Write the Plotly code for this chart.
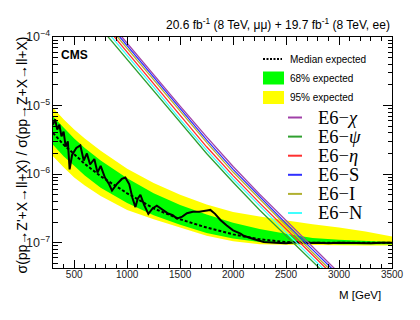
import plotly.graph_objects as go

# ---- expected limit (median and bands) ----
band_mass = [300, 400, 500, 600, 750, 1000, 1250, 1500, 1750, 2000,
             2250, 2500, 2750, 3000, 3250, 3500]
median_exp = [3.98e-6, 2.69e-6, 1.95e-6, 1.41e-6, 9.3e-7, 5.25e-7, 3.16e-7, 2.19e-7,
              1.66e-7, 1.32e-7, 1.12e-7, 1.02e-7, 1.0e-7, 1.0e-7, 1.0e-7, 1.0e-7]
yellow_hi = [9.3e-6, 6.3e-6, 4.47e-6, 3.3e-6, 2.19e-6, 1.2e-6, 7.4e-7, 5.0e-7,
             3.6e-7, 2.8e-7, 2.4e-7, 2.1e-7, 1.86e-7, 1.66e-7, 1.45e-7, 1.23e-7]
green_hi = [6.9e-6, 4.7e-6, 3.3e-6, 2.4e-6, 1.58e-6, 8.7e-7, 5.25e-7, 3.55e-7,
            2.57e-7, 1.95e-7, 1.58e-7, 1.35e-7, 1.17e-7, 1.1e-7, 1.05e-7, 1.02e-7]
green_lo = [2.69e-6, 1.82e-6, 1.32e-6, 9.5e-7, 6.3e-7, 3.8e-7, 2.5e-7, 1.82e-7,
            1.38e-7, 1.15e-7, 1.02e-7, 9.8e-8, 9.8e-8, 9.5e-8, 9.5e-8, 9.5e-8]
yellow_lo = [1.82e-6, 1.26e-6, 8.9e-7, 6.8e-7, 4.8e-7, 3.0e-7, 2.2e-7, 1.66e-7,
             1.26e-7, 1.05e-7, 9.5e-8, 9.3e-8, 9.3e-8, 9.1e-8, 9.1e-8, 9.1e-8]

# ---- observed limit ----
obs_mass = [300, 320, 340, 360, 380, 400, 420, 440, 457, 480, 520, 558, 590, 620,
            650, 690, 720, 750, 790, 830, 857, 900, 950, 983, 1020, 1050, 1078,
            1100, 1125, 1160, 1200, 1240, 1280, 1320, 1380, 1430, 1470, 1520,
            1565, 1620, 1680, 1754, 1785, 1830, 1880, 1940, 2000, 2070, 2100,
            2200, 2290, 2400, 2500, 2600, 2700, 2800, 2900, 3000, 3100, 3200,
            3300, 3400, 3500]
obs_limit = [5.25e-6, 6.3e-6, 4.47e-6, 5.25e-6, 3.55e-6, 4.17e-6, 2.51e-6, 3.0e-6,
             1.17e-6, 1.9e-6, 2.4e-6, 2.63e-6, 1.58e-6, 2.0e-6, 1.38e-6, 1.66e-6,
             1.05e-6, 1.32e-6, 8.9e-7, 7.1e-7, 5.75e-7, 7.1e-7, 8.5e-7, 8.9e-7,
             7.1e-7, 4.47e-7, 3.3e-7, 4.37e-7, 5.0e-7, 3.55e-7, 2.63e-7, 3.16e-7,
             3.47e-7, 3.16e-7, 2.69e-7, 2.51e-7, 2.24e-7, 2.4e-7, 2.69e-7, 2.82e-7,
             2.82e-7, 2.95e-7, 3.0e-7, 2.63e-7, 2.14e-7, 1.78e-7, 1.51e-7, 1.35e-7,
             1.26e-7, 1.12e-7, 1.02e-7, 1.0e-7, 9.8e-8, 1.01e-7, 9.9e-8, 1.0e-7,
             9.8e-8, 1.0e-7, 9.9e-8, 1.0e-7, 9.8e-8, 1.0e-7, 1.0e-7]

# ---- E6 model predictions ----
theory_mass = [750, 1000, 1250, 1500, 1750, 2000, 2250, 2500, 2750, 3000]
e6_chi = [2.34e-4, 8.1e-5, 2.8e-5, 9.8e-6, 3.5e-6, 1.29e-6, 5.1e-7, 2.1e-7, 8.5e-8, 3.6e-8]
e6_psi = [1.35e-4, 4.7e-5, 1.62e-5, 5.6e-6, 2.0e-6, 7.6e-7, 3.0e-7, 1.26e-7, 5.2e-8, 2.24e-8]
e6_eta = [1.74e-4, 6.0e-5, 2.1e-5, 7.2e-6, 2.5e-6, 9.5e-7, 3.8e-7, 1.58e-7, 6.5e-8, 2.75e-8]
e6_s = [2.14e-4, 7.4e-5, 2.57e-5, 8.9e-6, 3.16e-6, 1.17e-6, 4.7e-7, 1.9e-7, 7.9e-8, 3.3e-8]
e6_i = [1.95e-4, 6.8e-5, 2.34e-5, 8.1e-6, 2.9e-6, 1.07e-6, 4.3e-7, 1.74e-7, 7.2e-8, 3.0e-8]
e6_n = [1.55e-4, 5.4e-5, 1.86e-5, 6.3e-6, 2.24e-6, 8.5e-7, 3.4e-7, 1.41e-7, 5.9e-8, 2.5e-8]

model_labels = ["E6−<i>χ</i>", "E6−<i>ψ</i>", "E6−<i>η</i>", "E6−S", "E6−I", "E6−N"]
model_values = [e6_chi, e6_psi, e6_eta, e6_s, e6_i, e6_n]
model_colors = ["#A040A8", "#30A030", "#FF3030", "#3030FF", "#B0B030", "#40FFFF"]

SANS = "Liberation Sans, Arial, sans-serif"
SERIF = "Liberation Serif, Times New Roman, serif"

fig = go.Figure()

# 95% band
fig.add_trace(go.Scatter(
    x=band_mass + band_mass[::-1], y=yellow_hi + yellow_lo[::-1],
    fill="toself", fillcolor="#FFFF00", line=dict(width=0),
    mode="lines", hoverinfo="skip", showlegend=False))
# 68% band
fig.add_trace(go.Scatter(
    x=band_mass + band_mass[::-1], y=green_hi + green_lo[::-1],
    fill="toself", fillcolor="#00FF00", line=dict(width=0),
    mode="lines", hoverinfo="skip", showlegend=False))
# median expected
fig.add_trace(go.Scatter(
    x=band_mass, y=median_exp, mode="lines",
    line=dict(color="black", width=2, dash="3px,2px"), showlegend=False))
# observed
fig.add_trace(go.Scatter(
    x=obs_mass, y=obs_limit, mode="lines",
    line=dict(color="black", width=2), showlegend=False))
# model curves
for vals, col in zip(model_values, model_colors):
    fig.add_trace(go.Scatter(
        x=theory_mass, y=vals, mode="lines",
        line=dict(color=col, width=1.3), showlegend=False))

# ---- frame: the page body adds an 8px margin, so aim for window pixels ----
W, H = 420, 320
PAGE = 8
X0, X1, Y0, Y1 = 53, 392, 37, 268          # plot box in window pixels
L, R = X0 - PAGE, W - (X1 - PAGE)
T, B = Y0 - PAGE, H - (Y1 - PAGE)
pw, ph = X1 - X0, Y1 - Y0


def px(x, y):
    """window pixel position -> paper coordinates"""
    return (x - X0) / pw, (Y1 - y) / ph


shapes = []
annotations = []

# legend: expected items
lx0, lx1 = px(263, 0)[0], px(282, 0)[0]
_, ly = px(0, 59)
shapes.append(dict(type="line", xref="paper", yref="paper", x0=lx0, x1=lx1, y0=ly, y1=ly,
                   line=dict(color="black", width=2, dash="2px,1.5px")))
for row_y, col, txt in [(59, None, "Median expected"), (78, "#00FF00", "68% expected"),
                        (97.5, "#FFFF00", "95% expected")]:
    if col:
        bx0, by0 = px(263, row_y + 6.5)
        bx1, by1 = px(284, row_y - 6.5)
        shapes.append(dict(type="rect", xref="paper", yref="paper", x0=bx0, x1=bx1,
                           y0=by0, y1=by1, fillcolor=col, line=dict(width=0)))
    tx, ty = px(288, row_y)
    annotations.append(dict(x=tx, y=ty, xref="paper", yref="paper", text=txt,
                            showarrow=False, xanchor="left", yanchor="middle",
                            font=dict(family=SANS, size=10, color="black")))

# legend: model items
for i, (lab, col) in enumerate(zip(model_labels, model_colors)):
    row_y = 117.5 + i * 19.1
    sx0, sy = px(288, row_y)
    sx1, _ = px(302, row_y)
    shapes.append(dict(type="line", xref="paper", yref="paper", x0=sx0, x1=sx1, y0=sy, y1=sy,
                       line=dict(color=col, width=2)))
    tx, ty = px(316, row_y)
    annotations.append(dict(x=tx, y=ty, xref="paper", yref="paper", text=lab,
                            showarrow=False, xanchor="left", yanchor="middle",
                            font=dict(family=SERIF, size=18.5, color="black")))

# CMS label
cx, cy = px(59, 55)
annotations.append(dict(x=cx, y=cy, xref="paper", yref="paper", text="<b>CMS</b>",
                        showarrow=False, xanchor="left", yanchor="middle",
                        font=dict(family=SANS, size=12, color="black")))

# luminosity header
annotations.append(dict(x=1, y=1, xref="paper", yref="paper", yshift=3,
                        text="20.6 fb<sup>-1</sup> (8 TeV, μμ) + 19.7 fb<sup>-1</sup> (8 TeV, ee)",
                        showarrow=False, xanchor="right", yanchor="bottom",
                        font=dict(family=SANS, size=12, color="black")))

# axis titles (ROOT style, aligned to the axis end)
xt, yt = px(383, 295)
annotations.append(dict(x=xt, y=yt, xref="paper", yref="paper", text="M [GeV]",
                        showarrow=False, xanchor="right", yanchor="middle",
                        font=dict(family=SANS, size=11.5, color="black")))
yx, yy = px(21, 35)
annotations.append(dict(x=yx, y=yy, xref="paper", yref="paper", textangle=-90,
                        text="σ(pp→Z'+X→ll+X) / σ(pp→Z+X→ll+X)",
                        showarrow=False, xanchor="center", yanchor="top",
                        font=dict(family=SANS, size=14, color="black")))

fig.update_layout(
    width=W, height=H,
    margin=dict(l=L, r=R, t=T, b=B, autoexpand=False),
    paper_bgcolor="white", plot_bgcolor="white",
    showlegend=False,
    shapes=shapes, annotations=annotations,
    font=dict(family=SANS, size=10, color="#222"),
)
fig.update_xaxes(
    range=[300, 3500], tick0=500, dtick=500,
    ticks="inside", ticklen=8, tickcolor="black", ticklabelstandoff=-3,
    minor=dict(ticks="inside", ticklen=4, dtick=100, tickcolor="black", showgrid=False),
    showline=True, linecolor="black", linewidth=1, mirror="allticks",
    showgrid=False, zeroline=False, tickfont=dict(size=10),
)
fig.update_yaxes(
    type="log", range=[-7.37, -4], dtick=1, exponentformat="power",
    ticks="inside", ticklen=9, tickcolor="black",
    minor=dict(ticks="inside", ticklen=4.5, dtick="D1", tickcolor="black", showgrid=False),
    showline=True, linecolor="black", linewidth=1, mirror="allticks",
    showgrid=False, zeroline=False, tickfont=dict(size=10),
)

fig.write_html("out.html")
